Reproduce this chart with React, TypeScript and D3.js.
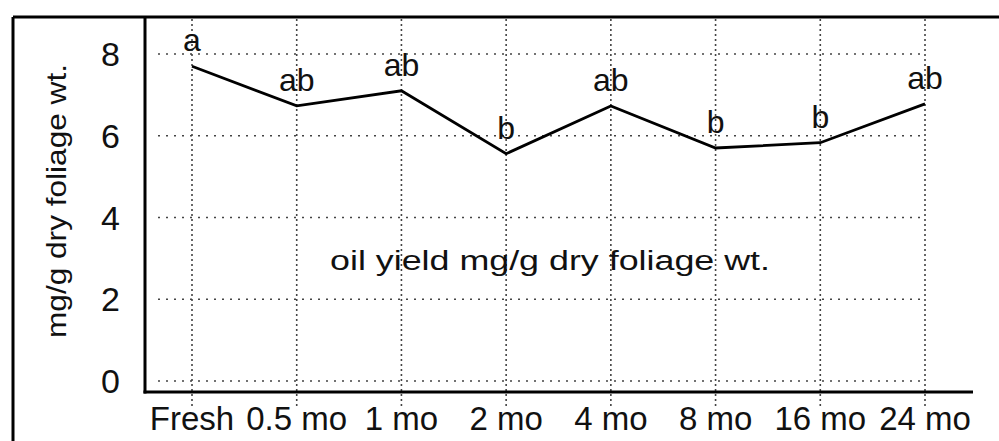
import React from "react";
import * as d3 from "d3";

const categories = ["Fresh", "0.5 mo", "1 mo", "2 mo", "4 mo", "8 mo", "16 mo", "24 mo"];
const oilYield = [7.7, 6.73, 7.1, 5.56, 6.73, 5.7, 5.83, 6.78];
const sigLetters = ["a", "ab", "ab", "b", "ab", "b", "b", "ab"];
const yTicks = [0, 2, 4, 6, 8];
const yTitle = "mg/g dry foliage wt.";
const seriesLabel = "oil yield mg/g dry foliage wt.";

const W = 999;
const H = 441;
const FONT = "'Liberation Sans', Arial, Helvetica, sans-serif";

export default function App() {
  const frameL = 13;
  const frameT = 17;
  const axisX = 145;
  const axisY = 392;
  const axisR = 973;

  const x = d3.scalePoint<string>().domain(categories).range([192, 925]);
  const y = d3.scaleLinear().domain([0, 8]).range([381, 54]);

  const line = d3
    .line<number>()
    .x((_, i) => x(categories[i]) as number)
    .y((d) => y(d));

  const gridColor = "#444";

  return (
    <div style={{ position: "absolute", left: 0, top: 0, margin: 0 }}>
      <svg width={W} height={H} style={{ display: "block", background: "#fff" }}>
        {/* outer frame */}
        <line x1={frameL} y1={frameT} x2={W} y2={frameT} stroke="#000" strokeWidth={3} />
        <line x1={frameL} y1={frameT} x2={frameL} y2={H} stroke="#000" strokeWidth={3} />

        {/* horizontal grid */}
        {yTicks.map((t) => (
          <line
            key={"h" + t}
            x1={158}
            x2={x(categories[categories.length - 1]) as number}
            y1={y(t)}
            y2={y(t)}
            stroke={gridColor}
            strokeWidth={1.6}
            strokeDasharray="2,6"
          />
        ))}
        {/* vertical grid */}
        {categories.map((c) => (
          <line
            key={"v" + c}
            x1={x(c) as number}
            x2={x(c) as number}
            y1={frameT + 2}
            y2={axisY + 16}
            stroke={gridColor}
            strokeWidth={1.6}
            strokeDasharray="2,3"
          />
        ))}

        {/* axes */}
        <line x1={axisX} y1={frameT} x2={axisX} y2={axisY + 1.5} stroke="#000" strokeWidth={3} />
        <line x1={axisX - 1.5} y1={axisY} x2={axisR} y2={axisY} stroke="#000" strokeWidth={3} />

        {/* y tick labels */}
        {yTicks.map((t) => (
          <text
            key={"yt" + t}
            x={120}
            y={y(t)}
            dy="0.36em"
            textAnchor="end"
            fontFamily={FONT}
            fontSize={34}
            fill="#111"
          >
            {t}
          </text>
        ))}

        {/* y title */}
        <text
          transform={`translate(66,${201}) rotate(-90)`}
          textAnchor="middle"
          fontFamily={FONT}
          fontSize={28}
          textLength={274}
          lengthAdjust="spacingAndGlyphs"
          fill="#111"
        >
          {yTitle}
        </text>

        {/* x labels */}
        {categories.map((c) => (
          <text
            key={"xl" + c}
            x={x(c) as number}
            y={430}
            textAnchor="middle"
            fontFamily={FONT}
            fontSize={33}
            fill="#111"
          >
            {c}
          </text>
        ))}

        {/* data line */}
        <path d={line(oilYield) || ""} fill="none" stroke="#000" strokeWidth={2.8} strokeLinejoin="miter" />

        {/* significance letters */}
        {oilYield.map((v, i) => (
          <text
            key={"sl" + i}
            x={x(categories[i]) as number}
            y={y(v) - 15}
            textAnchor="middle"
            fontFamily={FONT}
            fontSize={32}
            fill="#111"
          >
            {sigLetters[i]}
          </text>
        ))}

        {/* series label */}
        <text
          x={550}
          y={270}
          textAnchor="middle"
          fontFamily={FONT}
          fontSize={27}
          textLength={440}
          lengthAdjust="spacingAndGlyphs"
          fill="#111"
        >
          {seriesLabel}
        </text>
      </svg>
    </div>
  );
}
